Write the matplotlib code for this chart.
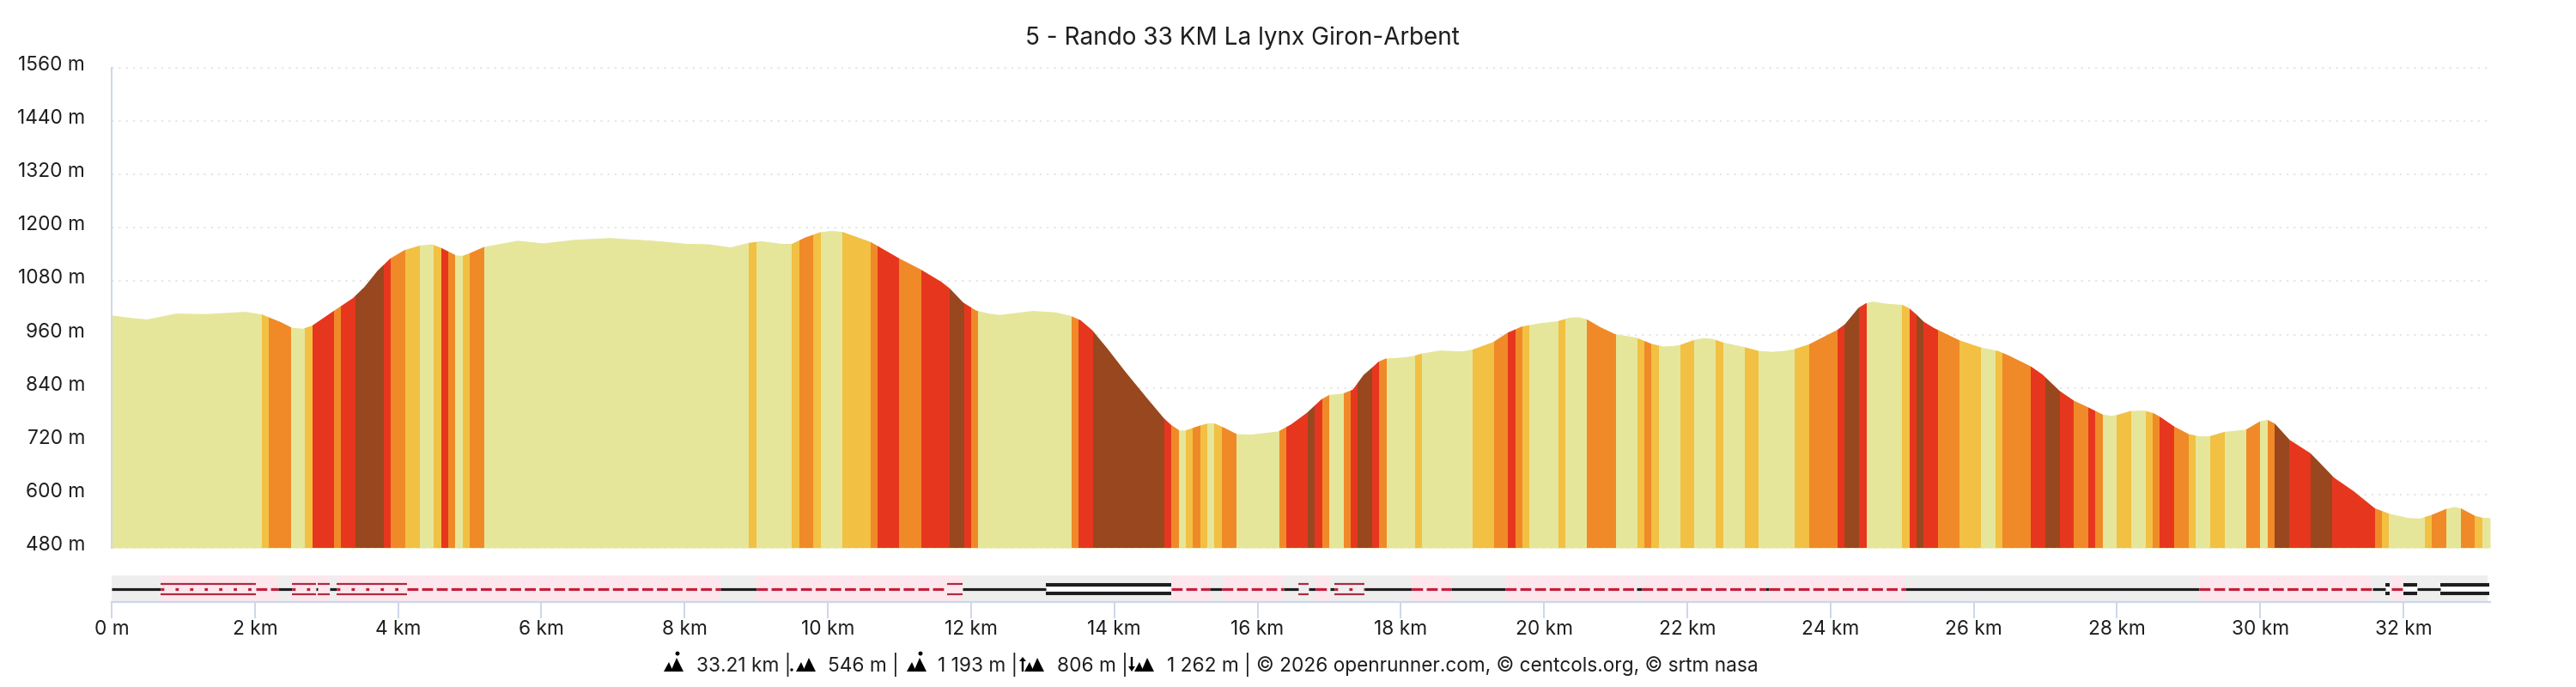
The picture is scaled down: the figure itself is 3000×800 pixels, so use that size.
import matplotlib
matplotlib.use("Agg")
import matplotlib.pyplot as plt
from matplotlib.patches import Polygon

plt.rcParams['font.family'] = ['Inter', 'DejaVu Sans']

title = "5 - Rando 33 KM La lynx Giron-Arbent"

# elevation profile
km = [0, 0.28, 0.5, 0.9, 1.32, 1.87, 2.1, 2.36, 2.52, 2.67, 2.8, 3.1, 3.37, 3.53, 3.71, 3.89, 4.09, 4.3, 4.47,
      4.6, 4.81, 4.9, 5.0, 5.2, 5.67, 6.03, 6.46, 6.95, 7.56, 8.03, 8.34, 8.64, 8.89, 9.07, 9.35, 9.5, 9.68,
      9.89, 10.05, 10.2, 10.48, 10.6, 11.0, 11.29, 11.58, 11.7, 11.89, 12.07, 12.25, 12.4, 12.86, 13.17, 13.39,
      13.53, 13.69, 13.9, 14.15, 14.45, 14.69, 14.79, 14.91, 14.99, 15.19, 15.31, 15.4, 15.55, 15.71, 15.92,
      16.29, 16.47, 16.69, 16.89, 17.0, 17.19, 17.33, 17.48, 17.63, 17.69, 17.79, 18.0, 18.16, 18.29, 18.54,
      18.86, 19.0, 19.29, 19.49, 19.69, 19.93, 20.19, 20.36, 20.49, 20.6, 20.78, 20.99, 21.29, 21.5, 21.67,
      21.8, 21.89, 22.1, 22.23, 22.36, 22.5, 22.79, 23.0, 23.19, 23.35, 23.49, 23.7, 24.09, 24.2, 24.39, 24.49,
      24.59, 24.8, 25.0, 25.1, 25.2, 25.3, 25.44, 25.8, 26.02, 26.1, 26.34, 26.5, 26.8, 26.96, 27.2, 27.4,
      27.6, 27.8, 27.92, 28.0, 28.19, 28.38, 28.51, 28.6, 28.8, 29.0, 29.15, 29.29, 29.5, 29.8, 30.0, 30.1,
      30.2, 30.41, 30.7, 30.81, 31.03, 31.3, 31.6, 31.8, 32.07, 32.23, 32.39, 32.6, 32.71, 32.8, 33.0, 33.1, 33.21]
elev = [1003, 997, 994, 1007, 1006, 1011, 1005, 988, 975, 973, 980, 1013, 1042, 1067, 1103, 1131, 1150, 1160, 1163,
        1155, 1138, 1137, 1143, 1157, 1171, 1165, 1173, 1177, 1171, 1164, 1163, 1156, 1166, 1170, 1164, 1164, 1178,
        1190, 1193, 1191, 1175, 1168, 1131, 1107, 1079, 1064, 1032, 1014, 1007, 1004, 1013, 1010, 1002,
        992, 970, 929, 877, 818, 772, 757, 744, 744, 755, 760, 760, 749, 736, 735,
        742, 758, 784, 814, 824, 827, 836, 869, 890, 899, 906, 908, 911, 917, 924,
        922, 926, 943, 964, 978, 985, 990, 998, 999, 994, 977, 961, 953, 939, 933,
        934, 936, 948, 952, 950, 942, 932, 923, 921, 923, 927, 938, 970, 983, 1020, 1030,
        1034, 1029, 1027, 1019, 1005, 989, 975, 947, 935, 931, 923, 912, 888, 870, 833, 811,
        796, 780, 777, 779, 788, 789, 783, 775, 753, 736, 731, 731, 741, 746, 765, 768,
        760, 723, 693, 675, 638, 608, 569, 557, 547, 546, 554, 568, 572, 569, 552, 548, 547]

# slope bands: band i runs from band_stops[i] to band_stops[i + 1]
band_stops = [0, 2.1, 2.2, 2.5, 2.7, 2.8, 3.1, 3.2, 3.4, 3.8, 3.9, 4.1, 4.3, 4.5, 4.6, 4.7, 4.8, 4.9, 5.0, 5.2,
              8.9, 9.0, 9.5, 9.6, 9.8, 9.9, 10.2, 10.6, 10.7, 11.0, 11.3, 11.7, 11.9, 12.0, 12.1, 13.4, 13.5, 13.7,
              14.7, 14.8, 14.9, 15.0, 15.1, 15.2, 15.3, 15.4, 15.5, 15.7, 16.3, 16.4, 16.7, 16.8, 16.9, 17.0, 17.2,
              17.3, 17.4, 17.6, 17.7, 17.8, 18.2, 18.3, 19.0, 19.3, 19.5, 19.6, 19.7, 19.8, 20.2, 20.3, 20.6, 21.0,
              21.3, 21.4, 21.5, 21.6, 21.9, 22.1, 22.4, 22.5, 22.8, 23.0, 23.5, 23.7, 24.1, 24.2, 24.4, 24.5, 25.0,
              25.1, 25.2, 25.3, 25.5, 25.8, 26.1, 26.3, 26.4, 26.8, 27.0, 27.2, 27.4, 27.6, 27.7, 27.8, 28.0, 28.2,
              28.4, 28.5, 28.6, 28.8, 29.0, 29.1, 29.3, 29.5, 29.8, 30.0, 30.1, 30.2, 30.4, 30.7, 31.0, 31.6, 31.7,
              31.8, 32.3, 32.4, 32.6, 32.8, 33.0, 33.1, 33.21]
band_kinds = ("P Y O P Y R O R B R O Y P Y R O P Y O "
              "P Y P Y O Y P Y O R O R B R O P O R "
              "B R O P Y O Y P Y O P O R B R O P "
              "O R B R O P Y P Y O R O Y P Y P O "
              "P Y O Y P Y P Y P Y P Y O R B R P "
              "Y R B R O Y P Y O R B R O R O P Y "
              "P Y O R O Y P Y P O P O B R B R O Y "
              "P Y O P O Y P").split()

# surface strip under the profile
bg_starts = [0, 0.68, 2.32, 2.52, 3.05, 3.15, 8.5, 9.0, 11.88, 14.79, 15.36, 15.515, 16.36, 16.8, 17.0, 18.15, 18.7,
             19.46, 21.29, 21.36, 23.09, 23.14, 25.04, 29.14, 31.54, 31.82, 32.0]
bg_ends = [0.68, 2.32, 2.52, 3.05, 3.15, 8.5, 9.0, 11.88, 14.79, 15.36, 15.515, 16.36, 16.8, 17.0, 18.15, 18.7,
           19.46, 21.29, 21.36, 23.09, 23.14, 25.04, 29.14, 31.54, 31.82, 32.0, 33.175]
bg_kinds = ["g", "p", "g", "p", "g", "p", "g", "p", "g", "p", "g", "p", "g", "p", "g", "p", "g",
            "p", "g", "p", "g", "p", "g", "p", "g", "p", "g"]

road_starts = [0, 0.68, 2.02, 2.32, 2.52, 2.85, 2.88, 3.04, 3.14, 4.13, 8.5, 9.0, 11.66, 11.88, 13.05, 14.79, 15.34, 15.5,
               16.36, 16.57, 16.71, 16.81, 17.01, 17.07, 17.49, 18.15, 18.7, 19.46, 21.29, 21.36, 23.09, 23.14,
               25.04, 29.14, 31.57, 31.75, 31.835, 32.0, 32.195, 32.515]
road_ends = [0.68, 2.02, 2.32, 2.52, 2.85, 2.88, 3.04, 3.14, 4.13, 8.5, 9.0, 11.66, 11.88, 13.05, 14.79, 15.34, 15.5, 16.36,
             16.57, 16.71, 16.81, 17.01, 17.07, 17.49, 18.15, 18.7, 19.46, 21.29, 21.36, 23.09, 23.14, 25.04,
             29.14, 31.57, 31.75, 31.81, 31.995, 32.195, 32.515, 33.2]
road_kinds = ["solid", "trail", "dash", "solid", "trail", "solid", "rail", "solid", "trail", "dash", "solid", "dash", "rail",
              "solid", "double", "dash", "solid", "dash", "solid", "rail", "solid", "dash", "solid", "trail", "solid",
              "dash", "solid", "dash", "solid", "dash", "solid", "dash", "solid", "dash", "solid", "double", "dash",
              "double", "solid", "double"]

y_ticks = [480, 600, 720, 840, 960, 1080, 1200, 1320, 1440, 1560]
y_labels = ["480 m", "600 m", "720 m", "840 m", "960 m", "1080 m", "1200 m", "1320 m", "1440 m", "1560 m"]
x_ticks = list(range(0, 33, 2))
x_labels = ["0 m"] + [str(k) + " km" for k in x_ticks[1:]]

stats = ["33.21 km |", "546 m |", "1 193 m |", "806 m |",
         "1 262 m | © 2026 openrunner.com, © centcols.org, © srtm nasa"]

COLORS = {"P": "#E6E69A", "Y": "#F2C043", "O": "#F08A28", "R": "#E6371E", "B": "#98471F"}
STRIP_BG = {"g": "#EEEEEE", "p": "#FDE7EC"}
AXIS = "#CBD7EA"
INK = "#1E1E1E"
RED = "#C41F3C"
RAIL = "#AC2A43"
W, H = 3000, 800


def box(left, top, right, bottom):
    return [left / W, 1 - bottom / H, (right - left) / W, (bottom - top) / H]


fig = plt.figure(figsize=(30, 8), dpi=100)
ax = fig.add_axes(box(130, 79, 2900, 638))
strip = fig.add_axes(box(130, 670, 2900, 701))

# profile
area = ax.fill_between(km, elev, 480, color=COLORS["P"], linewidth=0, zorder=2)
profile = area.get_paths()[0]
for i, kind in enumerate(band_kinds):
    band = ax.axvspan(band_stops[i], band_stops[i + 1], color=COLORS[kind], linewidth=0, antialiased=False, zorder=3)
    band.set_clip_path(profile, ax.transData)

ax.set_xlim(0, 33.21)
ax.set_ylim(480, 1560)
ax.set_yticks(y_ticks)
ax.set_xticks([])
ax.set_yticklabels([])
ax.tick_params(axis="y", length=0)
ax.grid(axis="y", color="#E0E0E0", linewidth=1.1, linestyle=(0, (1.6, 3.8)))
ax.set_axisbelow(True)
for line in ax.get_ygridlines():
    line.set_clip_on(False)
for side in ["top", "right", "bottom"]:
    ax.spines[side].set_visible(False)
ax.spines["left"].set_color(AXIS)
ax.spines["left"].set_linewidth(1.4)
ax.spines["left"].set_zorder(5)
for value, label in zip(y_ticks, y_labels):
    ax.annotate(label, (0, value), xycoords=("axes fraction", "data"), xytext=(-31, -3), textcoords="offset pixels",
                ha="right", va="baseline", fontsize=16.3, color=INK)

# surface strip
for s, e, kind in zip(bg_starts, bg_ends, bg_kinds):
    strip.axvspan(s, e, color=STRIP_BG[kind], linewidth=0, zorder=1)
for s, e, kind in zip(road_starts, road_ends, road_kinds):
    if kind == "solid":
        strip.plot([s, e], [0, 0], color=INK, lw=2.3, solid_capstyle="butt", zorder=3)
    elif kind == "dash":
        strip.plot([s, e], [0, 0], color=RED, lw=2.3, linestyle=(0, (4.0, 1.35)), dash_capstyle="butt", zorder=3)
    elif kind == "double":
        strip.plot([s, e], [0, 0], color="white", lw=3.4, solid_capstyle="butt", zorder=2)
        strip.plot([s, e], [-4.8, -4.8], color=INK, lw=2.9, solid_capstyle="butt", zorder=3)
        strip.plot([s, e], [4.8, 4.8], color=INK, lw=2.9, solid_capstyle="butt", zorder=3)
    else:
        strip.plot([s, e], [-6, -6], color=RAIL, lw=1.6, solid_capstyle="butt", zorder=3)
        strip.plot([s, e], [6, 6], color=RAIL, lw=1.6, solid_capstyle="butt", zorder=3)
        if kind == "trail":
            strip.plot([s, e], [0, 0], color=RED, lw=2.3, linestyle=(0, (1.2, 4.1)), dash_capstyle="butt", zorder=3)

strip.set_xlim(0, 33.21)
strip.set_ylim(15, -16)
strip.set_yticks([])
strip.set_xticks(x_ticks)
strip.set_xticklabels(x_labels, fontsize=16.3, color=INK)
strip.tick_params(axis="x", length=14, width=1.4, color=AXIS, pad=1)
for side in ["top", "right", "left"]:
    strip.spines[side].set_visible(False)
strip.spines["bottom"].set_color(AXIS)
strip.spines["bottom"].set_linewidth(1.6)

fig.text(1447 / W, 1 - 52 / H, title, ha="center", va="baseline", fontsize=20.1, color=INK)


# footer icons
def px(points):
    return [(x / W, 1 - y / H) for x, y in points]


def peaks(x):
    # two little summits sitting on the footer baseline
    fig.add_artist(Polygon(px([(x, 782), (x + 6, 771), (x + 11, 782)]), transform=fig.transFigure, color="black", lw=0))
    fig.add_artist(Polygon(px([(x + 8, 782), (x + 15, 766), (x + 23, 782)]), transform=fig.transFigure,
                           color="black", lw=0))


def dot(x, y, r):
    fig.add_artist(Polygon(px([(x - r, y), (x - r * 0.7, y - r * 0.7), (x, y - r), (x + r * 0.7, y - r * 0.7),
                               (x + r, y), (x + r * 0.7, y + r * 0.7), (x, y + r), (x - r * 0.7, y + r * 0.7)]),
                           transform=fig.transFigure, color="black", lw=0))


def arrow(x, up):
    if up:
        pts = [(x, 765), (x + 4, 770), (x + 1.2, 770), (x + 1.2, 782), (x - 1.2, 782), (x - 1.2, 770), (x - 4, 770)]
    else:
        pts = [(x, 782), (x + 4, 776), (x + 1.2, 776), (x + 1.2, 765), (x - 1.2, 765), (x - 1.2, 776), (x - 4, 776)]
    fig.add_artist(Polygon(px(pts), transform=fig.transFigure, color="black", lw=0))


peaks(773)
dot(789, 761, 2.6)
peaks(927)
dot(922, 780, 1.8)
peaks(1056)
dot(1072, 761, 2.6)
peaks(1193)
arrow(1191, True)
peaks(1321)
arrow(1318, False)

for x, text in zip([811, 964, 1092, 1231, 1359], stats):
    fig.text(x / W, 1 - 782 / H, text, ha="left", va="baseline", fontsize=16.3, color=INK)

fig.savefig("out.png", dpi=100, facecolor="white")
